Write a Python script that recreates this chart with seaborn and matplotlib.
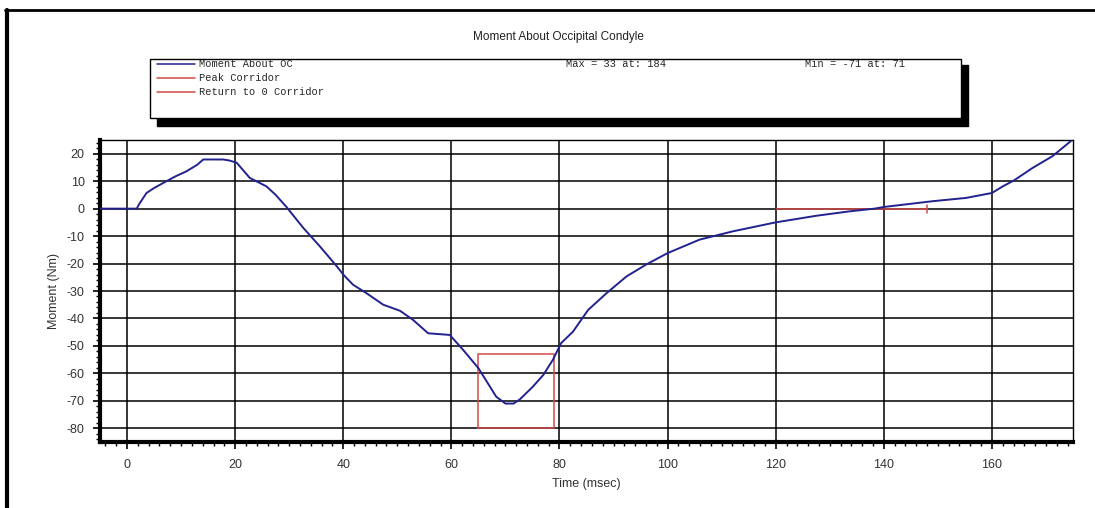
import matplotlib
matplotlib.use("Agg")
import matplotlib.pyplot as plt
from matplotlib.lines import Line2D
from matplotlib.patches import Rectangle
from matplotlib.ticker import MultipleLocator
import seaborn as sns
import pandas as pd

# moment curve
time_ms = [-5, 1.8, 2.2, 3.6, 5, 7.3, 9, 11, 13, 14.1, 17.8, 19, 20.3, 22.7, 25.8, 27.5,
           29.5, 32.6, 35.7, 38.8, 40, 41.8, 44.3, 47.4, 50.5, 52.9, 55.7, 59.7, 62.2, 65,
           68.3, 70, 71.5, 72.6, 75, 77, 78.8, 80.3, 82.5, 85.3, 88.7, 92.4, 96, 100,
           105.9, 112, 120, 127.5, 133.6, 138.3, 140, 149, 155.2, 160, 162, 164.1, 167.5,
           171.2, 174.6]
moment_nm = [0, 0, 1.5, 5.7, 7.5, 10, 11.8, 13.6, 16, 17.9, 17.9, 17.5, 16.7, 11.2, 8.1, 5,
             0.6, -7, -13.8, -21, -24, -27.7, -30.8, -35, -37.2, -40.5, -45.4, -46, -51.5, -58.1,
             -68.5, -71, -71, -69.6, -65, -60.6, -55, -49, -44.8, -36.9, -30.8, -24.7, -20.4, -16.2,
             -11.3, -8.3, -5, -2.6, -1, 0, 0.6, 2.7, 3.9, 5.7, 8.1, 10.3, 14.8,
             19.1, 24.6]

# corridors
peak_t = [65, 65, 79, 79, 65]
peak_m = [-80, -53, -53, -80, -80]
ret_t = [120, 148]
ret_m = [0, 0]
ret_end_m = [-1.5, 1.5]

legend_labels = ["Moment About OC", "Peak Corridor", "Return to 0 Corridor"]
max_text = "Max = 33 at: 184"
min_text = "Min = -71 at: 71"

blue = "#22228f"
red = "#d24a4a"
W, H = 1095, 508

sns.set_style("white")
plt.rcParams['font.family'] = ['Liberation Sans', 'DejaVu Sans']
plt.rcParams['axes.unicode_minus'] = False

fig = plt.figure(figsize=(10.95, 5.08), dpi=100)
ax = fig.add_axes([100 / W, 1 - 442 / H, 973 / W, 302 / H])

df = pd.DataFrame({"Time": time_ms, "Moment": moment_nm})
sns.lineplot(data=df, x="Time", y="Moment", ax=ax, color=blue, linewidth=1.4, zorder=4)
ax.plot(peak_t, peak_m, color=red, linewidth=1.1, zorder=3)
ax.plot(ret_t, ret_m, color=red, linewidth=1.1, zorder=3)
ax.plot([ret_t[1], ret_t[1]], ret_end_m, color=red, linewidth=1.1, zorder=3)

ax.set_xlim(-5, 175)
ax.set_ylim(-85, 25)
ax.xaxis.set_major_locator(MultipleLocator(20))
ax.xaxis.set_minor_locator(MultipleLocator(2))
ax.yaxis.set_major_locator(MultipleLocator(10))
ax.yaxis.set_minor_locator(MultipleLocator(2))
ax.set_axisbelow(True)
ax.grid(True, which="major", color="black", linewidth=1.1)

ax.tick_params(axis="both", which="major", direction="out", length=5, width=1.2,
               color="black", labelsize=9, labelcolor="#333333", pad=6,
               bottom=True, left=True)
ax.tick_params(axis="both", which="minor", direction="out", length=3, width=1,
               color="black", bottom=True, left=True)
ax.tick_params(axis="x", which="major", pad=7)

for side in ["left", "bottom"]:
    ax.spines[side].set_linewidth(3)
    ax.spines[side].set_color("black")
for side in ["top", "right"]:
    ax.spines[side].set_linewidth(1)
    ax.spines[side].set_color("black")

ax.set_xlabel("Time (msec)", fontsize=9, color="#333333", labelpad=5)
ax.set_ylabel("Moment (Nm)", fontsize=9, color="#333333", labelpad=5)

fig.text(558 / W, 1 - 37 / H, "Moment About Occipital Condyle", ha="center", va="center",
         fontsize=8.5, color="#222222")

# legend box with drop shadow
fig.patches.append(Rectangle((157 / W, 1 - 126 / H), 811 / W, 61 / H, transform=fig.transFigure,
                             facecolor="black", edgecolor="black", zorder=1))
fig.patches.append(Rectangle((150 / W, 1 - 118 / H), 811 / W, 59 / H, transform=fig.transFigure,
                             facecolor="white", edgecolor="black", linewidth=1, zorder=2))
legend_colors = [blue, red, red]
mono = ["Liberation Mono", "DejaVu Sans Mono"]
for i, (lab, col) in enumerate(zip(legend_labels, legend_colors)):
    yy = 1 - (64 + 14 * i) / H
    fig.lines.append(Line2D([157 / W, 195 / W], [yy, yy], transform=fig.transFigure,
                            color=col, linewidth=1.1, zorder=3))
    fig.text(199 / W, yy, lab, ha="left", va="center", fontsize=7.5, family=mono, zorder=3)
fig.text(566 / W, 1 - 64 / H, max_text, ha="left", va="center", fontsize=7.5, family=mono, zorder=3)
fig.text(805 / W, 1 - 64 / H, min_text, ha="left", va="center", fontsize=7.5, family=mono, zorder=3)

# outer frame (left and top edges)
fig.lines.append(Line2D([6.5 / W, 6.5 / W], [0, 1 - 10 / H], transform=fig.transFigure,
                        color="black", linewidth=3))
fig.lines.append(Line2D([5 / W, 1], [1 - 10 / H, 1 - 10 / H], transform=fig.transFigure,
                        color="black", linewidth=2))

fig.savefig("out.png", dpi=100)
